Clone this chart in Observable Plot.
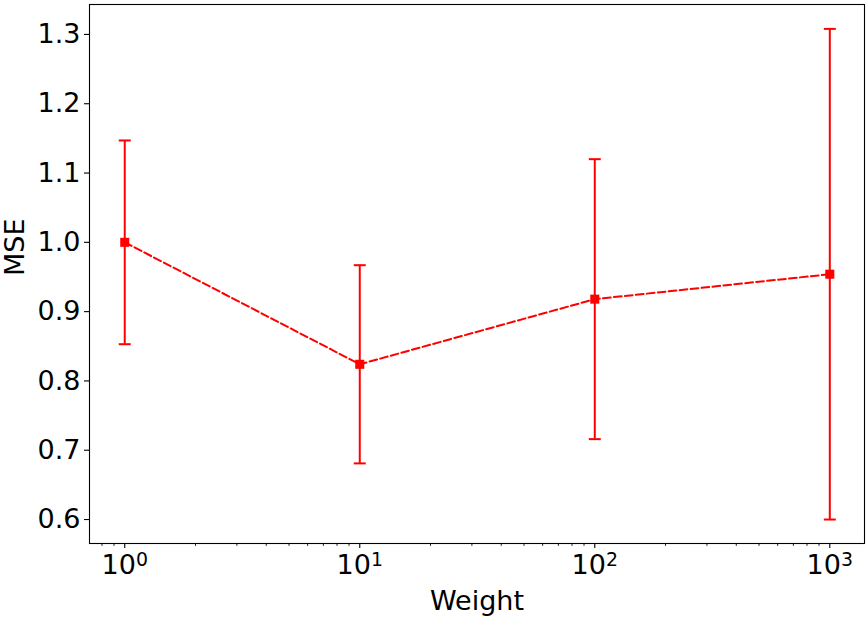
<!DOCTYPE html>
<html><head><meta charset="utf-8">
<script src="https://cdn.jsdelivr.net/npm/d3@7"></script>
<script src="https://cdn.jsdelivr.net/npm/@observablehq/plot@0.6"></script>
<style>body{margin:0;background:#fff}</style>
</head><body><div id="chart"></div>
<script>
const weights = [1, 10, 100, 1000];
const mse = [1.000, 0.824, 0.918, 0.954];
const err = [0.147, 0.143, 0.202, 0.354];
const yTicks = [0.6, 0.7, 0.8, 0.9, 1.0, 1.1, 1.2, 1.3];
const xTicks = [1, 10, 100, 1000];
const xTickExponents = ["0", "1", "2", "3"];
const xMinorTicks = [0.8, 0.9, 2, 3, 4, 5, 6, 7, 8, 9, 20, 30, 40, 50, 60, 70, 80, 90, 200, 300, 400, 500, 600, 700, 800, 900];
const xLabel = "Weight";
const yLabel = "MSE";

const data = weights.map((w, i) => ({w, m: mse[i], lo: mse[i] - err[i], hi: mse[i] + err[i]}));
const capSymbol = {draw(ctx, size) { const r = Math.sqrt(size / Math.PI); ctx.moveTo(-r, 0); ctx.lineTo(r, 0); }};

const chart = Plot.plot({
  width: 868,
  height: 617,
  marginLeft: 89,
  marginTop: 4,
  marginRight: 4,
  marginBottom: 74,
  style: {fontFamily: "DejaVu Sans", fontSize: "27px", background: "white", color: "black"},
  x: {type: "log", domain: [0.708, 1405]},
  y: {domain: [0.5654, 1.3432]},
  marks: [
    Plot.axisY({ticks: yTicks, tickFormat: d3.format(".1f"), tickSize: 5, tickPadding: 4, label: null, strokeWidth: 1.1}),
    Plot.axisX({ticks: xMinorTicks, tickFormat: () => "", tickSize: 2.8, label: null, strokeWidth: 0.9}),
    Plot.axisX({ticks: xTicks, tickFormat: (d) => "10^" + xTickExponents[xTicks.indexOf(d)], tickSize: 5, tickPadding: 6, label: null, strokeWidth: 1.1}),
    Plot.frame({stroke: "black", strokeWidth: 1.1}),
    Plot.ruleX(data, {x: "w", y1: "lo", y2: "hi", stroke: "red", strokeWidth: 2}),
    Plot.dot(data, {x: "w", y: "hi", symbol: capSymbol, r: 6, stroke: "red", strokeWidth: 2, fill: "none"}),
    Plot.dot(data, {x: "w", y: "lo", symbol: capSymbol, r: 6, stroke: "red", strokeWidth: 2, fill: "none"}),
    Plot.line(data, {x: "w", y: "m", stroke: "red", strokeWidth: 2, strokeDasharray: "7.7,3.3"}),
    Plot.dot(data, {x: "w", y: "m", symbol: "square", r: 5.1, fill: "red", stroke: "none"}),
    Plot.text([yLabel], {text: d => d, frameAnchor: "left", dx: -74, dy: 2, rotate: -90, fontSize: 27, fill: "black"}),
    Plot.text([xLabel], {text: d => d, frameAnchor: "bottom", dy: 66, fontSize: 27, fill: "black"})
  ]
});
document.getElementById("chart").appendChild(chart);

// Render "10^k" tick labels with a real superscript
d3.select(chart).selectAll("text").each(function() {
  const t = this.textContent;
  if (/^10\^\d$/.test(t)) {
    const [base, exp] = t.split("^");
    const sel = d3.select(this);
    sel.text(null);
    sel.append("tspan").text(base);
    sel.append("tspan").attr("dy", "-0.42em").attr("font-size", "0.7em").text(exp);
  }
});
</script>
</body></html>
